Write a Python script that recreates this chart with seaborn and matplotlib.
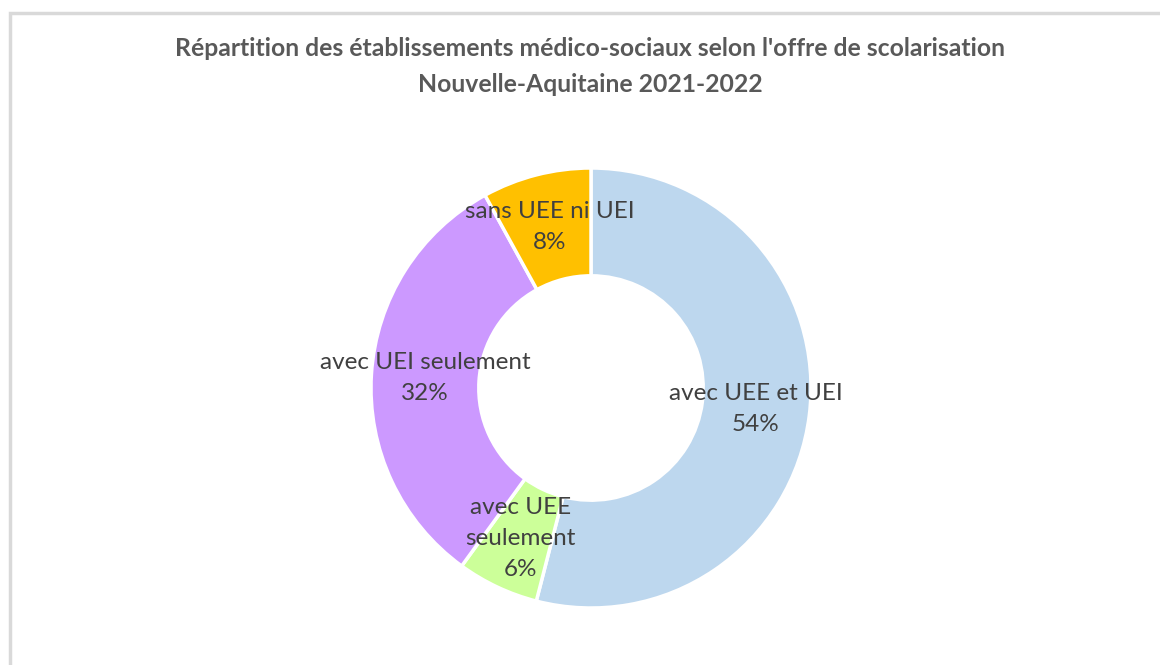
import matplotlib
matplotlib.use("Agg")
import matplotlib.pyplot as plt
import seaborn as sns
from matplotlib.patches import Rectangle

# data
categories = ["avec UEE et UEI", "avec UEE\nseulement", "avec UEI seulement", "sans UEE ni UEI"]
shares = [54, 6, 32, 8]
colors = ["#BDD7EE", "#CCFF99", "#CC99FF", "#FFC000"]
title_lines = ["Répartition des établissements médico-sociaux selon l'offre de scolarisation",
               "Nouvelle-Aquitaine 2021-2022"]

sns.set_theme(style="white")
plt.rcParams["font.family"] = ["Lato", "DejaVu Sans"]

W, H = 1160, 665
fig = plt.figure(figsize=(W / 100, H / 100), dpi=100)

# donut axes: centre ~(591, 388) px, radius ~220 px
cx, cy, r = 591, 388, 220
ax = fig.add_axes([(cx - r) / W, 1 - (cy + r) / H, 2 * r / W, 2 * r / H])

labels = [f"{c}\n{v}%" for c, v in zip(categories, shares)]
wedges, texts = ax.pie(shares,
                       labels=labels,
                       colors=sns.color_palette(colors),
                       startangle=90,
                       counterclock=False,
                       radius=1,
                       labeldistance=0.755,
                       wedgeprops=dict(width=0.49, edgecolor="white", linewidth=2.5),
                       textprops=dict(color="#404040", fontsize=17.5, linespacing=1.58))
for t in texts:
    t.set_ha("center")
    t.set_va("center")
ax.set_xlim(-1, 1)
ax.set_ylim(-1, 1)
ax.set_aspect("equal")
ax.axis("off")

fig.text(0.509, 1 - 49 / H, title_lines[0], ha="center", va="center",
         fontsize=17.8, fontweight="bold", color="#595959")
fig.text(0.509, 1 - 84 / H, title_lines[1], ha="center", va="center",
         fontsize=17.8, fontweight="bold", color="#595959")

# chart frame
fig.add_artist(Rectangle((9.5 / W, -0.1), 2, 1 - 12.5 / H + 0.1, transform=fig.transFigure,
                         fill=False, edgecolor="#D9D9D9", linewidth=2.5))

fig.savefig("out.png", dpi=100)
